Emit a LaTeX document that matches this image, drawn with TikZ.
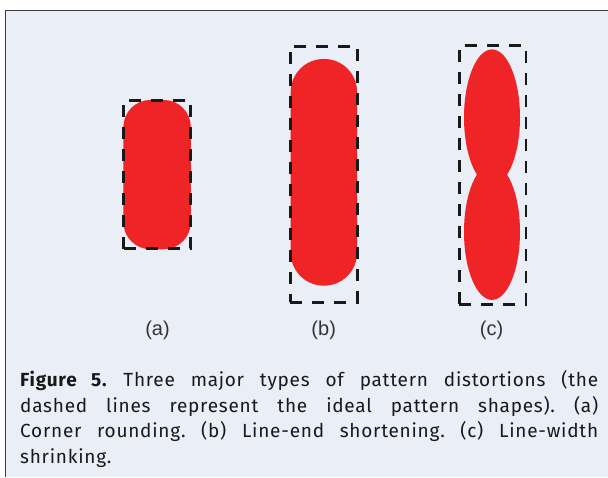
\documentclass[tikz,border=0pt]{standalone}
\usepackage{fontspec}
\setmainfont{Fira Sans}[LetterSpace=4]
\newfontfamily\tagfont{Liberation Sans}
\usepackage{xcolor}
\usepackage{tikz}
\usetikzlibrary{positioning, shapes.geometric}
\definecolor{panelbg}{HTML}{E9EEF7}
\definecolor{distred}{HTML}{EE2427}
\definecolor{framegray}{HTML}{3C3C3C}
\frenchspacing

\begin{document}
\begin{tikzpicture}[
    x=1pt, y=-1pt,
    ideal/.style={
        rectangle, draw=black!90, line width=2.8pt,
        dash pattern=on 12pt off 10pt,
        minimum width=66.8pt, inner sep=0pt
    },
    blob/.style={
        rectangle, fill=distred, draw=none,
        inner sep=0pt
    },
    lobe/.style={
        ellipse, fill=distred, draw=none,
        inner sep=0pt, minimum width=56pt, minimum height=136pt
    },
    tag/.style={font=\tagfont\fontsize{20}{22}\selectfont, text=black!80, inner sep=0pt},
    caption/.style={
        text width=578pt, align=justify, inner sep=0pt,
        font=\fontsize{19}{25.5}\selectfont, text=black!90
    }
]
\useasboundingbox (0,0) rectangle (608,477);
\fill[panelbg] (5,10) rectangle (608,477);
\draw[framegray, line width=1.2pt] (5.5,477) -- (5.5,10.5) -- (608,10.5);

% (a) corner rounding
\node[blob, minimum width=67.4pt, minimum height=149.3pt, rounded corners=27pt] (shapeA) at (157.1,174.6) {};
\node[ideal, minimum height=148pt] (boxA) at (157.2,174.6) {};

% (b) line-end shortening
\node[blob, minimum width=66.4pt, minimum height=226.7pt, rounded corners=33pt] (shapeB) at (323.9,172.3) {};
\node[ideal, minimum height=256.2pt] (boxB) at (323.8,174.2) {};

% (c) line-width shrinking
\node[lobe] (lobeTop) at (492,117.4) {};
\node[lobe] (lobeBot) at (492,231.9) {};
\node[ideal, minimum height=258.6pt] (boxC) at (492.5,175) {};

\node[tag] (labA) at (157.5,330) {(a)};
\node[tag] (labB) at (323.7,330) {(b)};
\node[tag] (labC) at (491.5,330) {(c)};

\node[caption, anchor=north west] (cap) at (20,370.5) {\textbf{Figure 5.} Three major types of pattern distortions (the\linebreak
dashed lines represent the ideal pattern shapes). (a)\linebreak
Corner rounding. (b) Line-end shortening. (c) Line-width\linebreak
shrinking.};
\end{tikzpicture}
\end{document}
